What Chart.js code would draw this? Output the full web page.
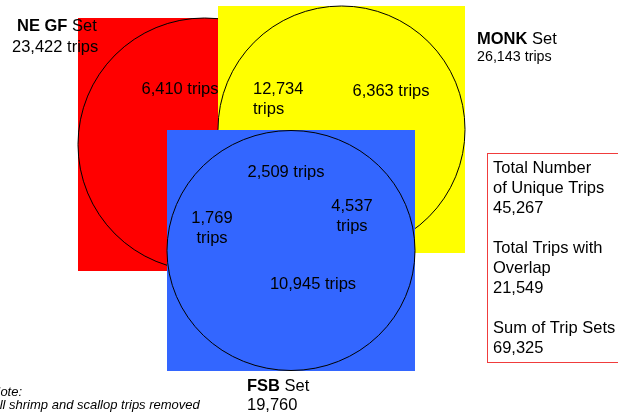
<!DOCTYPE html>
<html>
<head>
<meta charset="utf-8">
<script src="https://cdn.jsdelivr.net/npm/chart.js@4.4.1/dist/chart.umd.min.js"></script>
<style>
  html, body { margin: 0; padding: 0; background: #fff; overflow: hidden; }
  #wrap { width: 618px; height: 417px; }
</style>
</head>
<body>
<div id="wrap"><canvas id="c" width="618" height="417"></canvas></div>
<script>
// ---- DATA ----
const setNames = ['NE GF', 'MONK', 'FSB'];
const setTotals = [23422, 26143, 19760];
const setTotalSuffix = [' trips', ' trips', ''];
const regionNames = ['NE GF only', 'NE GF & MONK', 'MONK only', 'NE GF & FSB', 'All three', 'MONK & FSB', 'FSB only'];
const regionTrips = [6410, 12734, 6363, 1769, 2509, 4537, 10945];
const summaryLabels = [['Total Number', 'of Unique Trips'], ['Total Trips with', 'Overlap'], ['Sum of Trip Sets']];
const summaryValues = [45267, 21549, 69325];
const noteLines = ['Note:', 'All shrimp and scallop trips removed'];

// ---- LAYOUT / STYLE (positions in scale units) ----
const setColors = ['#ff0000', '#ffff00', '#3366ff'];
const setSquares = [[78, 18, 253, 253], [218, 6, 247, 247], [167, 130, 248, 241]];
const setCircles = [[204.5, 144.5, 126.5, 126.5], [341.5, 129.5, 123.5, 123.5], [291, 250.5, 124, 120]];
const setTitlePos = [[17, 26, 'left', 16.5], [477, 39, 'left', 16.5], [247, 386, 'left', 16.5]];
const setTotalPos = [[12, 47, 'left', 16.5], [477, 57, 'left', 14.3], [247, 405, 'left', 16.5]];
const regionPos = [
  [180, 89, 'center', false], [253, 89, 'left', true], [391, 91, 'center', false],
  [212, 218, 'center', true], [286, 172, 'center', false], [352, 206, 'center', true],
  [313, 284, 'center', false]
];
const FONT = '"Liberation Sans", Arial, sans-serif';
const MAIN = 16.5;
const fmt = n => n.toLocaleString('en-US');

const vennPlugin = {
  id: 'venn',
  afterDraw(chart) {
    const { ctx, scales: { x, y } } = chart;
    const X = v => x.getPixelForValue(v);
    const Y = v => y.getPixelForValue(v);
    ctx.save();
    // shapes
    for (let i = 0; i < setNames.length; i++) {
      const [sx, sy, sw, sh] = setSquares[i];
      ctx.fillStyle = setColors[i];
      ctx.fillRect(X(sx), Y(sy), X(sx + sw) - X(sx), Y(sy + sh) - Y(sy));
      const [cx, cy, rx, ry] = setCircles[i];
      ctx.beginPath();
      ctx.ellipse(X(cx), Y(cy), X(cx + rx) - X(cx), Y(cy + ry) - Y(cy), 0, 0, Math.PI * 2);
      ctx.strokeStyle = '#000';
      ctx.lineWidth = 1;
      ctx.stroke();
    }
    ctx.fillStyle = '#000';
    ctx.textBaseline = 'middle';
    // set titles
    for (let i = 0; i < setNames.length; i++) {
      const [tx, ty, ta, ts] = setTitlePos[i];
      ctx.textAlign = ta;
      ctx.font = 'bold ' + ts + 'px ' + FONT;
      ctx.fillText(setNames[i], X(tx), Y(ty));
      const w = ctx.measureText(setNames[i]).width;
      ctx.font = ts + 'px ' + FONT;
      ctx.fillText(' Set', X(tx) + w, Y(ty));
      const [vx, vy, va, vs] = setTotalPos[i];
      ctx.font = vs + 'px ' + FONT;
      ctx.textAlign = va;
      ctx.fillText(fmt(setTotals[i]) + setTotalSuffix[i], X(vx), Y(vy));
    }
    // region counts
    ctx.font = MAIN + 'px ' + FONT;
    for (let i = 0; i < regionTrips.length; i++) {
      const [rx, ry, ra, split] = regionPos[i];
      ctx.textAlign = ra;
      if (split) {
        ctx.fillText(fmt(regionTrips[i]), X(rx), Y(ry));
        ctx.fillText('trips', X(rx), Y(ry + 20));
      } else {
        ctx.fillText(fmt(regionTrips[i]) + ' trips', X(rx), Y(ry));
      }
    }
    // summary box
    ctx.strokeStyle = '#f03c3c';
    ctx.lineWidth = 1;
    ctx.strokeRect(X(487) + 0.5, Y(153) + 0.5, X(640) - X(487), Y(362) - Y(153));
    ctx.textAlign = 'left';
    ctx.font = MAIN + 'px ' + FONT;
    let ly = 168;
    for (let i = 0; i < summaryLabels.length; i++) {
      for (const line of summaryLabels[i]) {
        ctx.fillText(line, X(493), Y(ly));
        ly += 20;
      }
      ctx.fillText(fmt(summaryValues[i]), X(493), Y(ly));
      ly += 40;
    }
    // note
    ctx.font = 'italic 13px ' + FONT;
    ctx.fillText(noteLines[0], X(-9), Y(392));
    ctx.fillText(noteLines[1], X(-9), Y(405));
    ctx.restore();
  }
};

new Chart(document.getElementById('c'), {
  type: 'scatter',
  data: { datasets: [{ label: 'regions', data: [], pointRadius: 0 }] },
  options: {
    responsive: false,
    animation: false,
    layout: { padding: 0 },
    plugins: { legend: { display: false }, tooltip: { enabled: false } },
    scales: {
      x: { type: 'linear', min: 0, max: 618, display: false },
      y: { type: 'linear', min: 0, max: 417, reverse: true, display: false }
    }
  },
  plugins: [vennPlugin]
});
</script>
</body>
</html>
